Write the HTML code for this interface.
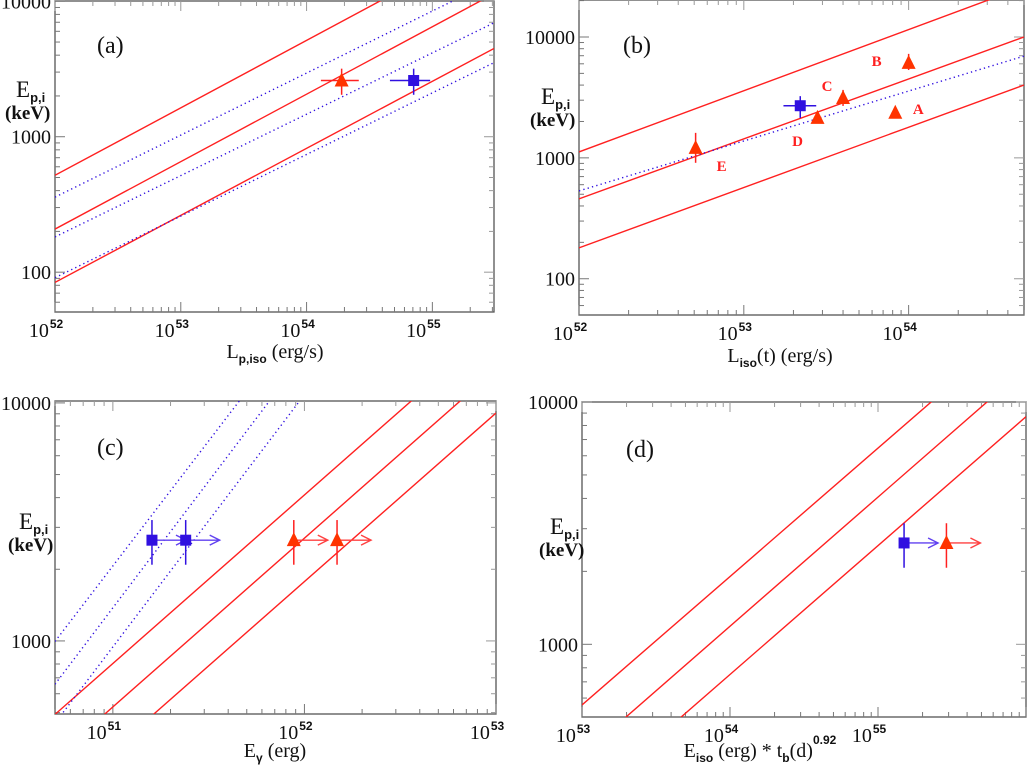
<!DOCTYPE html>
<html><head><meta charset="utf-8"><style>
body{margin:0;background:#fff;}
svg{display:block;font-family:"Liberation Serif",serif;}
</style></head><body>
<svg id="fig" width="1027" height="767" viewBox="0 0 1027 767" xmlns="http://www.w3.org/2000/svg"></svg>
<script>
// ---------- data ----------
// Panel (a): lines given as [log10 x anchor, E at anchor, slope]
const aRedLines = [[52, 519, 0.498],[52, 208, 0.498],[52, 84, 0.495]];
const aBlueLines = [[52, 358, 0.458],[52, 182, 0.453],[52, 91, 0.455]];
const aTriX = [1.9e54]; const aTriXlo=[1.3e54]; const aTriXhi=[2.6e54];
const aTriY = [2600]; const aTriYlo=[2040]; const aTriYhi=[3180];
const aSqX = [7.1e54]; const aSqXlo=[4.6e54]; const aSqXhi=[9.6e54];
const aSqY = [2600]; const aSqYlo=[2040]; const aSqYhi=[3180];
// Panel (b)
const bRedLines = [[52, 1120, 0.506],[52, 458, 0.496],[52, 180, 0.499]];
const bBlueLines = [[52, 533, 0.413]];
const bTriNames = ["E","D","C","A","B"];
const bTriX = [5.1e52, 2.8e53, 4.0e53, 8.3e53, 1.0e54];
const bTriY = [1210, 2140, 3130, 2360, 6100];
const bTriYlo = [910, 2060, 2690, 2280, 5330];
const bTriYhi = [1610, 2220, 3650, 2440, 7250];
const bSqX = [2.2e53]; const bSqXlo=[1.74e53]; const bSqXhi=[2.75e53];
const bSqY = [2700]; const bSqYlo=[2140]; const bSqYhi=[3240];
// Panel (c)
const cRedLines = [[50.70, 493, 0.708],[50.958, 493, 0.709],[51.214, 493, 0.708]];
const cBlueLines = [[50.70, 1000, 1.05],[50.70, 661, 1.063],[50.734, 493, 1.06]];
const cSqX = [1.6e51, 2.4e51]; const cTriX = [8.8e51, 1.48e52];
const cY = [2650]; const cYlo=[2090]; const cYhi=[3220];
// Panel (d)
const dRedLines = [[53, 562, 0.53],[53.297, 501, 0.533],[53.67, 501, 0.532]];
const dSqX = [1.5e55]; const dTriX = [2.9e55];
const dY = [2620]; const dYlo=[2070]; const dYhi=[3160];

const NS="http://www.w3.org/2000/svg";
const svg=document.getElementById('fig');
function el(tag,attrs,parent){const e=document.createElementNS(NS,tag);for(const k in attrs)e.setAttribute(k,attrs[k]);(parent||svg).appendChild(e);return e;}
const RED="#ff2020", BLUE="#3010e0", RFILL="#ff3300";

function panel(cfg){
  const g=el('g',{});
  
  
  const L=cfg.box[0],T=cfg.box[1],R=cfg.box[2],B=cfg.box[3];
  const sx=v=>L+(Math.log10(v)-cfg.xr[0])/(cfg.xr[1]-cfg.xr[0])*(R-L);
  const sxl=lv=>L+(lv-cfg.xr[0])/(cfg.xr[1]-cfg.xr[0])*(R-L);
  const sy=v=>B-(Math.log10(v)-cfg.yr[0])/(cfg.yr[1]-cfg.yr[0])*(B-T);
  const syl=lv=>B-(lv-cfg.yr[0])/(cfg.yr[1]-cfg.yr[0])*(B-T);
  const clip='clip'+cfg.id;
  const cp=el('clipPath',{id:clip},g); el('rect',{x:L,y:T,width:R-L,height:B-T},cp);
  const frame=el('rect',{x:L,y:T,width:R-L,height:B-T,fill:'none',stroke:'#555','stroke-width':1.3},g);
  
  
  for(let d=Math.floor(cfg.xr[0]);d<=Math.ceil(cfg.xr[1]);d++){
    for(let m=1;m<10;m++){
      const lv=d+Math.log10(m); if(lv<cfg.xr[0]-1e-6||lv>cfg.xr[1]+1e-6)continue;
      const x=sxl(lv),len=m==1?10:5;
      el('line',{x1:x,y1:B,x2:x,y2:B-len,stroke:'#777','stroke-width':1},g);
      el('line',{x1:x,y1:T,x2:x,y2:T+len,stroke:'#999','stroke-width':1},g);
      if(m==1 && x<1012){
        const t=el('text',{x:x-9,y:B+25,'font-size':20,'text-anchor':'middle',fill:'#111'},g);
        
        
        t.textContent='10';
        const s=el('tspan',{dx:1,dy:-9,'font-size':12,'font-family':'Liberation Sans, sans-serif','font-weight':'bold'},t); s.textContent=String(d);
      }
    }
  }
  for(let d=Math.floor(cfg.yr[0]);d<=Math.ceil(cfg.yr[1]);d++){
    for(let m=1;m<10;m++){
      const lv=d+Math.log10(m); if(lv<cfg.yr[0]-1e-6||lv>cfg.yr[1]+1e-6)continue;
      const y=syl(lv),len=m==1?10:5;
      el('line',{x1:L,y1:y,x2:L+len,y2:y,stroke:'#777','stroke-width':1},g);
      el('line',{x1:R,y1:y,x2:R-len,y2:y,stroke:'#999','stroke-width':1},g);
      if(m==1){
        const t=el('text',{x:L-4,y:y+7,'font-size':20,'text-anchor':'end',fill:'#111'},g);
        
        
        t.textContent=String(Math.pow(10,d));
      }
    }
  }
  const lg=el('g',{'clip-path':'url(#'+clip+')'},g);
  function drawLines(arr,color,dash,nm){
    arr.forEach(l=>{
      const x0=cfg.xr[0],x1=cfg.xr[1];
      const y0=Math.log10(l[1])+l[2]*(x0-l[0]), y1=Math.log10(l[1])+l[2]*(x1-l[0]);
      const ln=el('line',{x1:sxl(x0),y1:syl(y0),x2:sxl(x1),y2:syl(y1),stroke:color,'stroke-width':1.4,'stroke-dasharray':dash?'1.3,3.2':'none'},lg);
      
      
    });
  }
  drawLines(cfg.red||[],RED,false,'red-correlation-line');
  drawLines(cfg.blue||[],BLUE,true,'blue-correlation-line');
  const pg=el('g',{},g);
  function errs(x,y,xl,xh,yl,yh,c){
    if(xl)el('line',{x1:sx(xl),y1:sy(y),x2:sx(xh),y2:sy(y),stroke:c,'stroke-width':1.5},pg);
    el('line',{x1:sx(x),y1:sy(yl),x2:sx(x),y2:sy(yh),stroke:c,'stroke-width':1.5},pg);
  }
  function arrow(x,y,c){
    const px=sx(x),py=sy(y),e=px+34;
    el('line',{x1:px,y1:py,x2:e,y2:py,stroke:c,'stroke-width':1.4},pg);
    el('polyline',{points:`${e-10},${py-5} ${e},${py} ${e-10},${py+5}`,fill:'none',stroke:c,'stroke-width':1.4},pg);
  }
  function tri(x,y){const px=sx(x),py=sy(y);const p=el('polygon',{points:`${px-7},${py+6} ${px+7},${py+6} ${px},${py-8}`,fill:RFILL},pg);}
  function sq(x,y){const px=sx(x),py=sy(y);const p=el('rect',{x:px-5.5,y:py-5.5,width:11,height:11,fill:BLUE},pg);}
  cfg.draw({errs,arrow,tri,sq,sx,sy,pg});
  const pl=el('text',{x:cfg.letter[0],y:cfg.letter[1],'font-size':24,fill:'#111'},g);
  
  
  pl.textContent=cfg.lbl;
  const yt=el('text',{x:cfg.ytitle[0],y:cfg.ytitle[1],'font-size':23,fill:'#111'},g);
  
  
  yt.textContent='E';
  const ys=el('tspan',{dy:5,'font-size':13,'font-weight':'bold','font-family':'Liberation Sans, sans-serif'},yt); ys.textContent='p,i';
  const yk=el('text',{x:cfg.ytitle[0]-11,y:cfg.ytitle[1]+22,'font-size':19,'font-weight':'bold',fill:'#111'},g);
  
  
  yk.textContent='(keV)';
  const xt=el('text',{x:cfg.xtitle[0],y:cfg.xtitle[1],'font-size':20,'text-anchor':'middle',fill:'#111'},g);
  
  
  cfg.xparts.forEach(p=>{const s=el('tspan',p[1]=='sub'?{dy:5,'font-size':12,'font-weight':'bold','font-family':'Liberation Sans, sans-serif'}:p[1]=='sup'?{dy:-13,'font-size':12,'font-weight':'bold','font-family':'Liberation Sans, sans-serif'}:p[1]=='up'?{dy:-5}:{},xt);s.textContent=p[0];});
}

panel({id:'a',name:'panel-a',lbl:'(a)',box:[55,1,494,312],xr:[52,55.49],yr:[1.706,4.002],letter:[97,53],ytitle:[16,97],xtitle:[275,358],
  xparts:[['L',''],['p,iso','sub'],[' (erg/s)','up']],
  red:aRedLines,blue:aBlueLines,
  draw:({errs,tri,sq})=>{
    aTriX.forEach((x,i)=>{errs(x,aTriY[i],aTriXlo[i],aTriXhi[i],aTriYlo[i],aTriYhi[i],RED);tri(x,aTriY[i]);});
    aSqX.forEach((x,i)=>{errs(x,aSqY[i],aSqXlo[i],aSqXhi[i],aSqYlo[i],aSqYhi[i],BLUE);sq(x,aSqY[i]);});
  }});
panel({id:'b',name:'panel-b',lbl:'(b)',box:[579,0,1024,315],xr:[52,54.70],yr:[1.70,4.306],letter:[623,53],ytitle:[541,104],xtitle:[780,362],
  xparts:[['L',''],['iso','sub'],['(t) (erg/s)','up']],
  red:bRedLines,blue:bBlueLines,
  draw:({errs,tri,sq,sx,sy,pg})=>{
    bTriX.forEach((x,i)=>{errs(x,bTriY[i],x*0.95,x*1.05,bTriYlo[i],bTriYhi[i],RED);tri(x,bTriY[i]);});
    bSqX.forEach((x,i)=>{errs(x,bSqY[i],bSqXlo[i],bSqXhi[i],bSqYlo[i],bSqYhi[i],BLUE);sq(x,bSqY[i]);});
    const off={E:[26,18],D:[-20,23],C:[-16,-12],A:[23,-4],B:[-32,-2]};
    bTriNames.forEach((n,i)=>{const t=el('text',{x:sx(bTriX[i])+off[n][0],y:sy(bTriY[i])+off[n][1]+5,'font-size':15,'font-weight':'bold',fill:RED,'text-anchor':'middle'},pg);
      
      
      t.textContent=n;});
  }});
panel({id:'c',name:'panel-c',lbl:'(c)',box:[55,401,496,714],xr:[50.698,53.0],yr:[2.693,4.008],letter:[97,455],ytitle:[19,529],xtitle:[275,757],
  xparts:[['E',''],['γ','sub'],[' (erg)','up']],
  red:cRedLines,blue:cBlueLines,
  draw:({errs,arrow,tri,sq})=>{
    cSqX.forEach(x=>{errs(x,cY[0],null,null,cYlo[0],cYhi[0],BLUE);arrow(x,cY[0],'#6040f0');sq(x,cY[0]);});
    cTriX.forEach(x=>{errs(x,cY[0],null,null,cYlo[0],cYhi[0],RED);arrow(x,cY[0],'#ff4040');tri(x,cY[0]);});
  }});
panel({id:'d',name:'panel-d',lbl:'(d)',box:[582,402,1026,717],xr:[53,56],yr:[2.70,4.0],letter:[626,457],ytitle:[550,534],xtitle:[760,757],
  xparts:[['E',''],['iso','sub'],[' (erg) * t','up'],['b','sub'],['(d)','up'],['0.92','sup']],
  red:dRedLines,
  draw:({errs,arrow,tri,sq})=>{
    dSqX.forEach(x=>{errs(x,dY[0],null,null,dYlo[0],dYhi[0],BLUE);arrow(x,dY[0],'#6040f0');sq(x,dY[0]);});
    dTriX.forEach(x=>{errs(x,dY[0],null,null,dYlo[0],dYhi[0],RED);arrow(x,dY[0],'#ff4040');tri(x,dY[0]);});
  }});
</script>
</body></html>
